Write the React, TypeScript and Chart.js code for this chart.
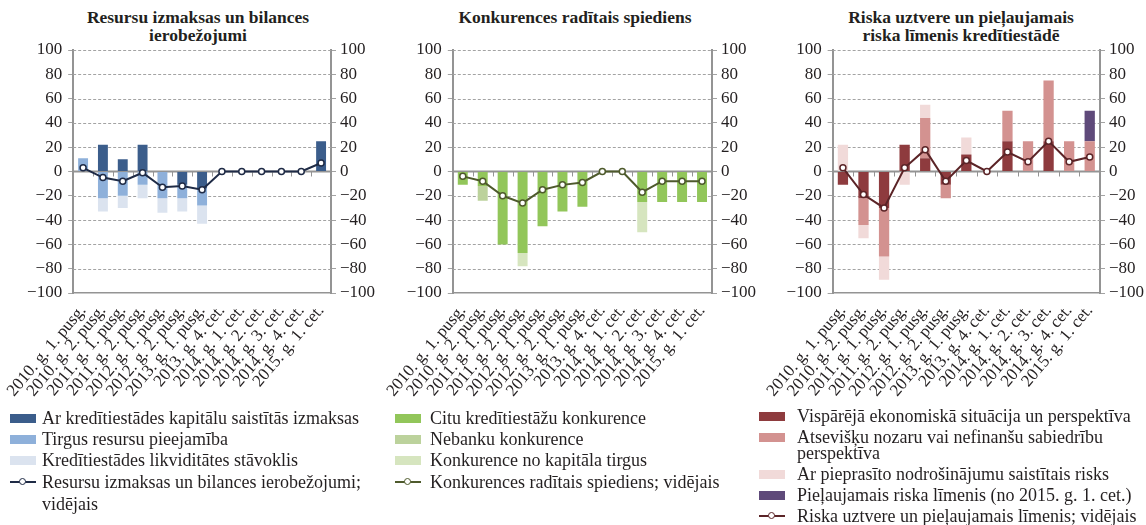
import React, { useEffect, useRef } from "react";
import { Chart, registerables } from "chart.js";
Chart.register(...registerables);

const categories = [
  "2010. g. 1. pusg.",
  "2010. g. 2. pusg.",
  "2011. g. 1. pusg.",
  "2011. g. 2. pusg.",
  "2012. g. 1. pusg.",
  "2012. g. 2. pusg.",
  "2013. g. 1. pusg.",
  "2013. g. 4. cet.",
  "2014. g. 1. cet.",
  "2014. g. 2. cet.",
  "2014. g. 3. cet.",
  "2014. g. 4. cet.",
  "2015. g. 1. cet.",
];

// Panel 1: Resursu izmaksas un bilances ierobežojumi
const capitalCosts = [0, 22, 10, 22, 0, -11, -14, 0, 0, 0, 0, 0, 25];
const marketFunding = [11, -22, -20, -11, -22, -11, -14, 0, 0, 0, 0, 0, 0];
const liquidityPosition = [0, -11, -10, -11, -12, -11, -15, 0, 0, 0, 0, 0, 0];
const fundingAverage = [3, -5, -8, -1, -13, -12, -15, 0, 0, 0, 0, 0, 7];

// Panel 2: Konkurences radītais spiediens
const otherBanksCompetition = [-11, -12, -60, -67, -45, -33, -29, 0, 0, -25, -25, -25, -25];
const nonBankCompetition = [0, -12, 0, 0, 0, 0, 0, 0, 0, 0, 0, 0, 0];
const capitalMarketCompetition = [0, 0, 0, -11, 0, 0, 0, 0, 0, -25, 0, 0, 0];
const competitionAverage = [-4, -8, -20, -26, -15, -11, -9, 0, 0, -17, -8, -8, -8];

// Panel 3: Riska uztvere un pieļaujamais riska līmenis kredītiestādē
const economicOutlook = [-11, -22, -30, 22, 11, -11, 14, 0, 25, 0, 25, 0, 0];
const sectorOutlook = [0, -22, -40, 0, 33, -11, 0, 0, 25, 25, 50, 25, 25];
const collateralRisk = [22, -11, -19, -11, 11, 0, 14, 0, 0, 0, 0, 0, 0];
const riskTolerance = [0, 0, 0, 0, 0, 0, 0, 0, 0, 0, 0, 0, 25];
const riskAverage = [3, -19, -30, 3, 18, -8, 9, 0, 16, 8, 25, 8, 12];

const SERIF = "'Liberation Serif', 'Times New Roman', serif";
const GRID = "#a3a3a3";
const AXIS = "#949494";
const TEXT = "#231f20";

const fmt = (v: any) => String(v).replace("-", "\u2212");

const gridPlugin = {
  id: "customGrid",
  beforeDatasetsDraw(chart: any) {
    const { ctx, chartArea: a, scales } = chart;
    const y = scales.y;
    const x = scales.x;
    ctx.save();
    ctx.strokeStyle = GRID;
    ctx.lineWidth = 1;
    ctx.setLineDash([3, 2]);
    for (let v = -80; v <= 100; v += 20) {
      if (v === 0) continue;
      const py = Math.round(y.getPixelForValue(v)) + 0.5;
      ctx.beginPath();
      ctx.moveTo(a.left, py);
      ctx.lineTo(a.right, py);
      ctx.stroke();
    }
    ctx.setLineDash([]);
    const zy = y.getPixelForValue(0);
    ctx.strokeStyle = AXIS;
    ctx.lineWidth = 2;
    ctx.beginPath();
    ctx.moveTo(a.left, zy);
    ctx.lineTo(a.right, zy);
    ctx.stroke();
    const n = categories.length;
    const w = x.getPixelForValue(1) - x.getPixelForValue(0);
    ctx.lineWidth = 1;
    for (let i = 1; i < n; i++) {
      const px = Math.round(x.getPixelForValue(i) - w / 2) + 0.5;
      ctx.beginPath();
      ctx.moveTo(px, zy);
      ctx.lineTo(px, zy + 5);
      ctx.stroke();
    }
    ctx.restore();
  },
};

type BarSpec = { label: string; data: number[]; color: string };
type PanelProps = {
  left: number;
  width: number;
  height: number;
  plotLeft: number;
  plotRight: number;
  plotBottom: number;
  bars: BarSpec[];
  line: { label: string; data: number[]; color: string };
};

function Panel(props: PanelProps) {
  const ref = useRef<HTMLCanvasElement>(null);
  useEffect(() => {
    const tickFont = { family: SERIF, size: 17 };
    const chart = new Chart(ref.current as HTMLCanvasElement, {
      type: "bar",
      data: {
        labels: categories,
        datasets: [
          {
            type: "line",
            label: props.line.label,
            data: props.line.data,
            borderColor: props.line.color,
            borderWidth: 2,
            pointRadius: 3,
            pointBackgroundColor: "#ffffff",
            pointBorderColor: props.line.color,
            pointBorderWidth: 1.5,
            tension: 0,
            yAxisID: "y2",
            order: 0,
          } as any,
          ...props.bars.map((b) => ({
            type: "bar",
            label: b.label,
            data: b.data,
            backgroundColor: b.color,
            borderWidth: 0,
            yAxisID: "y",
            stack: "s",
            barPercentage: 0.5,
            categoryPercentage: 1,
            order: 1,
          })),
        ],
      },
      options: {
        responsive: false,
        animation: false,
        layout: { padding: { top: 50, left: 0, right: 0, bottom: 0 } },
        plugins: { legend: { display: false }, tooltip: { enabled: false } },
        scales: {
          x: {
            stacked: true,
            grid: { drawOnChartArea: false, drawTicks: false },
            border: { display: true, color: AXIS, width: 1.5 },
            ticks: {
              autoSkip: false,
              minRotation: 50,
              maxRotation: 50,
              padding: 8,
              color: TEXT,
              font: tickFont,
            },
            afterFit: (s: any) => {
              s.height = props.height - props.plotBottom;
            },
          },
          y: {
            position: "left",
            stacked: true,
            min: -100,
            max: 100,
            ticks: { stepSize: 20, callback: fmt, color: TEXT, font: tickFont, padding: 6 },
            grid: { drawOnChartArea: false, tickLength: 5, tickColor: GRID },
            border: { display: true, color: AXIS, width: 2 },
            afterFit: (s: any) => {
              s.width = props.plotLeft;
            },
          },
          y2: {
            position: "right",
            min: -100,
            max: 100,
            ticks: { stepSize: 20, callback: fmt, color: TEXT, font: tickFont, padding: 4 },
            grid: { drawOnChartArea: false, tickLength: 5, tickColor: GRID },
            border: { display: true, color: AXIS, width: 2 },
            afterFit: (s: any) => {
              s.width = props.width - props.plotRight;
            },
          },
        },
      } as any,
      plugins: [gridPlugin],
    });
    return () => chart.destroy();
  }, []);
  return (
    <canvas
      ref={ref}
      width={props.width}
      height={props.height}
      style={{ position: "absolute", left: props.left, top: 0, width: props.width, height: props.height }}
    />
  );
}

const titleStyle = (center: number, top: number): React.CSSProperties => ({
  position: "absolute",
  left: center - 190,
  width: 380,
  top,
  textAlign: "center",
  fontFamily: SERIF,
  fontWeight: "bold",
  fontSize: 17.5,
  lineHeight: "18px",
  color: TEXT,
});

function Swatch({ x, y, color }: { x: number; y: number; color: string }) {
  return <div style={{ position: "absolute", left: x, top: y - 4.5, width: 26, height: 9, background: color }} />;
}

function LineMark({ x, y, color }: { x: number; y: number; color: string }) {
  return (
    <>
      <div style={{ position: "absolute", left: x, top: y - 1, width: 26, height: 2, background: color }} />
      <div
        style={{
          position: "absolute",
          left: x + 9,
          top: y - 4,
          width: 5,
          height: 5,
          borderRadius: "50%",
          background: "#fff",
          border: `1.5px solid ${color}`,
        }}
      />
    </>
  );
}

function LegendText({ x, y, children, lh = 18 }: { x: number; y: number; children: any; lh?: number }) {
  return (
    <div
      style={{
        position: "absolute",
        left: x,
        top: y - lh / 2,
        fontFamily: SERIF,
        fontSize: 18,
        lineHeight: `${lh}px`,
        color: TEXT,
        whiteSpace: "nowrap",
      }}
    >
      {children}
    </div>
  );
}

const C1 = { dark: "#3b5d8b", mid: "#8eb0da", pale: "#dbe3ef", line: "#1f2b46" };
const C2 = { dark: "#92c65a", mid: "#bcd29c", pale: "#d6e5bf", line: "#4e5a2c" };
const C3 = { dark: "#8e3b3e", mid: "#d39290", pale: "#f1dad9", purple: "#5f4a7a", line: "#5b2427" };

export default function App() {
  return (
    <div style={{ position: "absolute", left: 0, top: 0, width: 1146, height: 525, background: "#fff", overflow: "hidden" }}>
      <div style={titleStyle(198, 8)}>
        Resursu izmaksas un bilances
        <br />
        ierobežojumi
      </div>
      <div style={titleStyle(575, 8)}>Konkurences radītais spiediens</div>
      <div style={titleStyle(961, 8)}>
        Riska uztvere un pieļaujamais
        <br />
        riska līmenis kredītiestādē
      </div>

      <Panel
        left={0}
        width={380}
        height={410}
        plotLeft={66}
        plotRight={331}
        plotBottom={293}
        bars={[
          { label: "Ar kredītiestādes kapitālu saistītās izmaksas", data: capitalCosts, color: C1.dark },
          { label: "Tirgus resursu pieejamība", data: marketFunding, color: C1.mid },
          { label: "Kredītiestādes likviditātes stāvoklis", data: liquidityPosition, color: C1.pale },
        ]}
        line={{ label: "Resursu izmaksas un bilances ierobežojumi; vidējais", data: fundingAverage, color: C1.line }}
      />
      <Panel
        left={380}
        width={380}
        height={410}
        plotLeft={58}
        plotRight={332}
        plotBottom={293}
        bars={[
          { label: "Citu kredītiestāžu konkurence", data: otherBanksCompetition, color: C2.dark },
          { label: "Nebanku konkurence", data: nonBankCompetition, color: C2.mid },
          { label: "Konkurence no kapitāla tirgus", data: capitalMarketCompetition, color: C2.pale },
        ]}
        line={{ label: "Konkurences radītais spiediens; vidējais", data: competitionAverage, color: C2.line }}
      />
      <Panel
        left={760}
        width={386}
        height={410}
        plotLeft={62}
        plotRight={340}
        plotBottom={293}
        bars={[
          { label: "Vispārējā ekonomiskā situācija un perspektīva", data: economicOutlook, color: C3.dark },
          { label: "Atsevišķu nozaru vai nefinanšu sabiedrību perspektīva", data: sectorOutlook, color: C3.mid },
          { label: "Ar pieprasīto nodrošinājumu saistītais risks", data: collateralRisk, color: C3.pale },
          { label: "Pieļaujamais riska līmenis (no 2015. g. 1. cet.)", data: riskTolerance, color: C3.purple },
        ]}
        line={{ label: "Riska uztvere un pieļaujamais līmenis; vidējais", data: riskAverage, color: C3.line }}
      />

      {/* Legend column 1 */}
      <Swatch x={10} y={418} color={C1.dark} />
      <LegendText x={42} y={418}>Ar kredītiestādes kapitālu saistītās izmaksas</LegendText>
      <Swatch x={10} y={439} color={C1.mid} />
      <LegendText x={42} y={439}>Tirgus resursu pieejamība</LegendText>
      <Swatch x={10} y={460} color={C1.pale} />
      <LegendText x={42} y={460}>Kredītiestādes likviditātes stāvoklis</LegendText>
      <LineMark x={10} y={482} color={C1.line} />
      <LegendText x={42} y={482}>Resursu izmaksas un bilances ierobežojumi;</LegendText>
      <LegendText x={42} y={504}>vidējais</LegendText>

      {/* Legend column 2 */}
      <Swatch x={395} y={418} color={C2.dark} />
      <LegendText x={430} y={418}>Citu kredītiestāžu konkurence</LegendText>
      <Swatch x={395} y={439} color={C2.mid} />
      <LegendText x={430} y={439}>Nebanku konkurence</LegendText>
      <Swatch x={395} y={460} color={C2.pale} />
      <LegendText x={430} y={460}>Konkurence no kapitāla tirgus</LegendText>
      <LineMark x={395} y={482} color={C2.line} />
      <LegendText x={430} y={482}>Konkurences radītais spiediens; vidējais</LegendText>

      {/* Legend column 3 */}
      <Swatch x={759} y={416} color={C3.dark} />
      <LegendText x={797} y={416}>Vispārējā ekonomiskā situācija un perspektīva</LegendText>
      <Swatch x={759} y={437} color={C3.mid} />
      <LegendText x={797} y={437}>Atsevišķu nozaru vai nefinanšu sabiedrību</LegendText>
      <LegendText x={797} y={453}>perspektīva</LegendText>
      <Swatch x={759} y={474} color={C3.pale} />
      <LegendText x={797} y={474}>Ar pieprasīto nodrošinājumu saistītais risks</LegendText>
      <Swatch x={759} y={495} color={C3.purple} />
      <LegendText x={797} y={495}>Pieļaujamais riska līmenis (no 2015. g. 1. cet.)</LegendText>
      <LineMark x={759} y={516} color={C3.line} />
      <LegendText x={797} y={516}>Riska uztvere un pieļaujamais līmenis; vidējais</LegendText>
    </div>
  );
}
